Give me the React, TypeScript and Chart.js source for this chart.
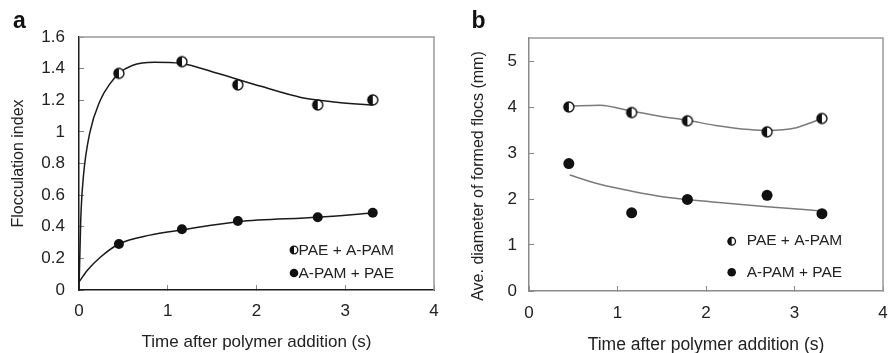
import React, { useEffect, useRef } from "react";
import { Chart, registerables } from "chart.js";

Chart.register(...registerables);

const FONT = "'Liberation Sans', Arial, Helvetica, sans-serif";

// ---- measured points (time after polymer addition, s) ----
const timeSeconds = [0.45, 1.16, 1.79, 2.69, 3.31];

// Panel a: flocculation index
const floccPaeApam = [1.37, 1.444, 1.297, 1.17, 1.202];
const floccApamPae = [0.291, 0.384, 0.436, 0.46, 0.489];

// Panel b: average diameter of formed flocs (mm)
const diamPaeApam = [4.0, 3.88, 3.7, 3.46, 3.75];
const diamApamPae = [2.77, 1.7, 1.99, 2.08, 1.68];

// ---- trend curves ----
const curveTimeA1 = [0, 0.02, 0.05, 0.12, 0.24, 0.35, 0.45, 0.6, 0.85, 1.15, 1.55, 2.05, 2.5, 2.9, 3.31];
const curveFloccPaeApam = [0, 0.45, 0.72, 0.99, 1.2, 1.305, 1.37, 1.42, 1.44, 1.433, 1.372, 1.288, 1.218, 1.188, 1.168];
const curveTimeA2 = [0, 0.09, 0.24, 0.45, 0.8, 1.16, 1.79, 2.69, 3.31];
const curveFloccApamPae = [0.05, 0.122, 0.207, 0.291, 0.347, 0.38, 0.432, 0.46, 0.487];
const curveTimeB1 = [0.47, 0.8, 1.16, 1.48, 1.79, 2.11, 2.49, 2.69, 3.02, 3.2, 3.31];
const curveDiamPaeApam = [4.02, 4.04, 3.91, 3.8, 3.71, 3.6, 3.51, 3.49, 3.55, 3.67, 3.76];
const curveTimeB2 = [0.46, 0.8, 1.16, 1.55, 2.11, 2.69, 3.31];
const curveDiamApamPae = [2.52, 2.32, 2.17, 2.04, 1.93, 1.83, 1.74];

// ---- labels ----
const seriesLabels = ["PAE + A-PAM", "A-PAM + PAE"];
const xTitle = "Time after polymer addition (s)";
const yTitleA = "Flocculation index";
const yTitleB = "Ave. diameter of formed flocs (mm)";

function pts(xs: number[], ys: number[]) {
  return xs.map((x, i) => ({ x, y: ys[i] }));
}

function drawHalf(ctx: CanvasRenderingContext2D, cx: number, cy: number, r: number, lw: number) {
  ctx.save();
  ctx.fillStyle = "#fff";
  ctx.beginPath();
  ctx.arc(cx, cy, r, 0, Math.PI * 2);
  ctx.fill();
  ctx.fillStyle = "#111";
  ctx.beginPath();
  ctx.arc(cx, cy, r, Math.PI / 2, Math.PI * 1.5);
  ctx.closePath();
  ctx.fill();
  ctx.strokeStyle = "#111";
  ctx.lineWidth = lw;
  ctx.beginPath();
  ctx.arc(cx, cy, r, 0, Math.PI * 2);
  ctx.stroke();
  ctx.restore();
}

function halfMarker(r: number, lw: number) {
  const size = Math.ceil(2 * r + lw + 2);
  const c = document.createElement("canvas");
  c.width = size;
  c.height = size;
  const ctx = c.getContext("2d")!;
  drawHalf(ctx, size / 2, size / 2, r, lw);
  return c;
}

const framePlugin = {
  id: "frame",
  beforeDatasetsDraw(chart: any, _a: any, opts: any) {
    const { ctx, chartArea: ca } = chart;
    ctx.save();
    ctx.strokeStyle = opts.color;
    ctx.lineWidth = opts.width;
    ctx.beginPath();
    ctx.moveTo(ca.left, ca.top);
    ctx.lineTo(ca.right, ca.top);
    ctx.lineTo(ca.right, ca.bottom);
    ctx.stroke();
    ctx.restore();
  },
};

const textPlugin = {
  id: "extraText",
  afterDraw(chart: any, _a: any, opts: any) {
    const { ctx } = chart;
    (opts.items || []).forEach((it: any) => {
      ctx.save();
      ctx.font = it.font;
      ctx.fillStyle = it.color || "#222";
      ctx.textAlign = it.align || "left";
      ctx.textBaseline = it.baseline || "alphabetic";
      ctx.translate(it.x, it.y);
      if (it.rotate) ctx.rotate(it.rotate);
      ctx.fillText(it.text, 0, 0);
      ctx.restore();
    });
  },
};

const legendPlugin = {
  id: "insideLegend",
  afterDatasetsDraw(chart: any, _a: any, opts: any) {
    const { ctx } = chart;
    let row = 0;
    chart.data.datasets.forEach((ds: any) => {
      if (!ds.label) return;
      const my = opts.markerY[row];
      const ty = opts.textY[row];
      if (ds.pointStyle instanceof HTMLCanvasElement) {
        drawHalf(ctx, opts.markerX, my, opts.r, 1.3);
      } else {
        ctx.save();
        ctx.fillStyle = "#111";
        ctx.beginPath();
        ctx.arc(opts.markerX, my, opts.r + 0.5, 0, Math.PI * 2);
        ctx.fill();
        ctx.restore();
      }
      ctx.save();
      ctx.font = `${opts.fontSize}px ${FONT}`;
      ctx.fillStyle = "#222";
      ctx.textAlign = "left";
      ctx.textBaseline = "middle";
      ctx.fillText(ds.label, opts.textX, ty);
      ctx.restore();
      row++;
    });
  },
};

function buildConfig(p: any) {
  const half = halfMarker(5, 1.4);
  return {
    type: "scatter",
    data: {
      datasets: [
        {
          label: seriesLabels[0],
          data: pts(timeSeconds, p.s1),
          pointStyle: half,
          pointRadius: 5,
          showLine: false,
          order: 0,
        },
        {
          label: seriesLabels[1],
          data: pts(timeSeconds, p.s2),
          pointStyle: "circle",
          pointRadius: p.filledR,
          backgroundColor: "#111",
          borderColor: "#111",
          borderWidth: 0,
          showLine: false,
          order: 1,
        },
        {
          label: "",
          data: pts(p.c1x, p.c1y),
          showLine: true,
          pointRadius: 0,
          borderColor: p.curveColor,
          borderWidth: 1.5,
          cubicInterpolationMode: "monotone",
          order: 2,
        },
        {
          label: "",
          data: pts(p.c2x, p.c2y),
          showLine: true,
          pointRadius: 0,
          borderColor: p.curveColor,
          borderWidth: 1.5,
          cubicInterpolationMode: "monotone",
          order: 3,
        },
      ],
    },
    options: {
      responsive: false,
      animation: false,
      events: [],
      layout: { padding: p.padding },
      scales: {
        x: {
          type: "linear",
          min: 0,
          max: 4,
          ticks: {
            stepSize: 1,
            padding: p.xTickPad,
            color: "#222",
            font: { family: FONT, size: 17 },
            callback: (v: any) => String(Number(v)),
          },
          grid: { drawOnChartArea: false, drawTicks: true, tickLength: -5, color: "#888", tickWidth: 1 },
          border: { color: p.axisColor, width: 1.5 },
          title: {
            display: true,
            text: xTitle,
            color: "#222",
            font: { family: FONT, size: p.xTitleSize, lineHeight: 1.2 },
            padding: { top: 0, bottom: p.xTitlePad },
          },
          afterFit(scale: any) {
            scale.height = p.xAxisHeight;
            scale.paddingLeft = 0;
            scale.paddingRight = 0;
          },
        },
        y: {
          type: "linear",
          min: 0,
          max: p.yMax,
          ticks: {
            stepSize: p.yStep,
            includeBounds: false,
            padding: p.yTickPad,
            color: "#222",
            font: { family: FONT, size: 17 },
            callback: (v: any) => String(Math.round(Number(v) * 100) / 100),
          },
          grid: { drawOnChartArea: false, drawTicks: true, tickLength: -5, color: "#888", tickWidth: 1 },
          border: { color: p.axisColor, width: 1.5 },
          title: {
            display: !!p.yTitle,
            text: p.yTitle || "",
            color: "#222",
            font: { family: FONT, size: 16, lineHeight: 1.2 },
            padding: { top: p.yTitlePad, bottom: 0 },
          },
          afterFit(scale: any) {
            scale.width = p.yAxisWidth;
            scale.paddingTop = 0;
            scale.paddingBottom = 0;
          },
        },
      },
      plugins: {
        legend: { display: false },
        tooltip: { enabled: false },
        frame: { color: "#999", width: 1.5 },
        insideLegend: p.legend,
        extraText: { items: p.texts },
      },
    },
    plugins: [framePlugin, legendPlugin, textPlugin],
  } as any;
}

function Panel({ left, width, params }: { left: number; width: number; params: any }) {
  const ref = useRef<HTMLCanvasElement>(null);
  useEffect(() => {
    const chart = new Chart(ref.current!, buildConfig(params));
    return () => chart.destroy();
  }, []);
  return (
    <canvas
      ref={ref}
      width={width}
      height={353}
      style={{ position: "absolute", left, top: 0, width, height: 353 }}
    />
  );
}

const panelA = {
  s1: floccPaeApam,
  s2: floccApamPae,
  c1x: curveTimeA1,
  c1y: curveFloccPaeApam,
  c2x: curveTimeA2,
  c2y: curveFloccApamPae,
  filledR: 5,
  curveColor: "#1a1a1a",
  axisColor: "#1a1a1a",
  padding: { left: 0, top: 37, right: 11, bottom: 0 },
  xAxisHeight: 63,
  yAxisWidth: 79,
  yMax: 1.6,
  yStep: 0.2,
  xTickPad: 16,
  yTickPad: 19,
  xTitleSize: 17,
  xTitlePad: 0,
  yTitle: yTitleA,
  yTitlePad: 9,
  legend: { markerX: 294, markerY: [250, 273], textX: 298.5, textY: [251, 274], r: 3.8, fontSize: 15.5 },
  texts: [{ text: "a", x: 13, y: 28, font: `bold 23px ${FONT}`, color: "#111" }],
};

const panelB = {
  s1: diamPaeApam,
  s2: diamApamPae,
  c1x: curveTimeB1,
  c1y: curveDiamPaeApam,
  c2x: curveTimeB2,
  c2y: curveDiamApamPae,
  filledR: 5.5,
  curveColor: "#7a7a7a",
  axisColor: "#8a8a8a",
  padding: { left: 0, top: 38, right: 5, bottom: 0 },
  xAxisHeight: 62,
  yAxisWidth: 84,
  yMax: 5.5,
  yStep: 1,
  xTickPad: 17,
  yTickPad: 17,
  xTitleSize: 17.5,
  xTitlePad: -3,
  yTitle: "",
  yTitlePad: 0,
  legend: { markerX: 286.7, markerY: [241.3, 272.3], textX: 301.7, textY: [241, 272.5], r: 3.8, fontSize: 15.5 },
  texts: [
    { text: "b", x: 26.5, y: 28, font: `bold 23px ${FONT}`, color: "#111" },
    {
      text: yTitleB,
      x: 34,
      y: 176,
      rotate: -Math.PI / 2,
      align: "center",
      baseline: "middle",
      font: `16px ${FONT}`,
      color: "#222",
    },
  ],
};

export default function App() {
  return (
    <div style={{ position: "fixed", left: 0, top: 0, width: 889, height: 353, background: "#fff" }}>
      <Panel left={0} width={445} params={panelA} />
      <Panel left={445} width={444} params={panelB} />
    </div>
  );
}
